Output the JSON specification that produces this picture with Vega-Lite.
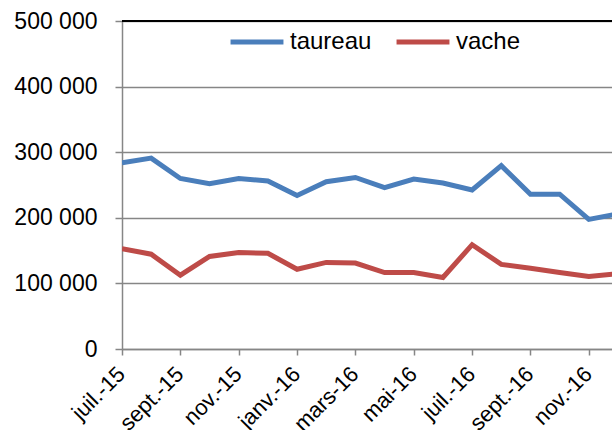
{
  "$schema": "https://vega.github.io/schema/vega-lite/v6.json",
  "autosize": "none",
  "width": 490,
  "height": 328,
  "padding": {"left": 122, "top": 21, "right": 0, "bottom": 81},
  "background": "white",
  "config": {"view": {"stroke": null}, "font": "Liberation Sans"},
  "data": {"values": [
    {"mois": "juil.-15", "type": "taureau", "valeur": 284000},
    {"mois": "août-15", "type": "taureau", "valeur": 291000},
    {"mois": "sept.-15", "type": "taureau", "valeur": 260000},
    {"mois": "oct.-15", "type": "taureau", "valeur": 252000},
    {"mois": "nov.-15", "type": "taureau", "valeur": 260000},
    {"mois": "déc.-15", "type": "taureau", "valeur": 256000},
    {"mois": "janv.-16", "type": "taureau", "valeur": 234000},
    {"mois": "févr.-16", "type": "taureau", "valeur": 255000},
    {"mois": "mars-16", "type": "taureau", "valeur": 261500},
    {"mois": "avr.-16", "type": "taureau", "valeur": 246000},
    {"mois": "mai-16", "type": "taureau", "valeur": 259000},
    {"mois": "juin-16", "type": "taureau", "valeur": 253000},
    {"mois": "juil.-16", "type": "taureau", "valeur": 242500},
    {"mois": "août-16", "type": "taureau", "valeur": 279500},
    {"mois": "sept.-16", "type": "taureau", "valeur": 236000},
    {"mois": "oct.-16", "type": "taureau", "valeur": 236000},
    {"mois": "nov.-16", "type": "taureau", "valeur": 197500},
    {"mois": "déc.-16", "type": "taureau", "valeur": 206000},
    {"mois": "juil.-15", "type": "vache", "valeur": 153000},
    {"mois": "août-15", "type": "vache", "valeur": 144500},
    {"mois": "sept.-15", "type": "vache", "valeur": 112500},
    {"mois": "oct.-15", "type": "vache", "valeur": 141000},
    {"mois": "nov.-15", "type": "vache", "valeur": 147000},
    {"mois": "déc.-15", "type": "vache", "valeur": 146000},
    {"mois": "janv.-16", "type": "vache", "valeur": 121500},
    {"mois": "févr.-16", "type": "vache", "valeur": 132000},
    {"mois": "mars-16", "type": "vache", "valeur": 131000},
    {"mois": "avr.-16", "type": "vache", "valeur": 116500},
    {"mois": "mai-16", "type": "vache", "valeur": 116500},
    {"mois": "juin-16", "type": "vache", "valeur": 109000},
    {"mois": "juil.-16", "type": "vache", "valeur": 159000},
    {"mois": "août-16", "type": "vache", "valeur": 129000},
    {"mois": "sept.-16", "type": "vache", "valeur": 123000},
    {"mois": "oct.-16", "type": "vache", "valeur": 116500},
    {"mois": "nov.-16", "type": "vache", "valeur": 110500},
    {"mois": "déc.-16", "type": "vache", "valeur": 115000}
  ]},
  "layer": [
    {
      "mark": {"type": "line", "strokeWidth": 5, "clip": true, "strokeJoin": "miter"},
      "encoding": {
        "x": {
          "field": "mois", "type": "ordinal", "sort": null,
          "scale": {"type": "point", "padding": 0, "range": [0, 496]},
          "axis": {
            "title": null,
            "values": ["juil.-15", "sept.-15", "nov.-15", "janv.-16", "mars-16", "mai-16", "juil.-16", "sept.-16", "nov.-16"],
            "labelAngle": -45, "labelAlign": "right", "labelBaseline": "top",
            "labelFontSize": 22, "labelColor": "black", "labelPadding": 8, "labelOffset": -8,
            "domainColor": "#868686", "domainWidth": 1.5,
            "tickColor": "#868686", "tickSize": 6, "tickWidth": 1.5,
            "grid": false, "labelOverlap": false
          }
        },
        "y": {
          "field": "valeur", "type": "quantitative",
          "scale": {"domain": [0, 500000], "nice": false},
          "axis": {
            "title": null,
            "values": [0, 100000, 200000, 300000, 400000, 500000],
            "labelExpr": "datum.value == 0 ? '0' : format(datum.value / 1000, 'd') + ' 000'",
            "labelFontSize": 23, "labelColor": "black", "labelPadding": 18,
            "domainColor": "#868686", "domainWidth": 1.5,
            "tickColor": "#868686", "tickSize": 7, "tickWidth": 1.5,
            "grid": true, "gridColor": "#868686", "gridWidth": 1.5
          }
        },
        "color": {
          "field": "type", "type": "nominal",
          "scale": {"domain": ["taureau", "vache"], "range": ["#4A7EBB", "#BE4B48"]},
          "legend": {
            "title": null, "orient": "none", "direction": "horizontal",
            "legendX": 106, "legendY": -8,
            "symbolType": "stroke", "symbolStrokeWidth": 5, "symbolSize": 2800,
            "labelFontSize": 24, "labelColor": "black", "labelOffset": 4,
            "columnPadding": 14
          }
        }
      }
    },
    {
      "mark": {"type": "rule", "color": "black", "strokeWidth": 1.5},
      "encoding": {"y": {"datum": 500000}}
    }
  ]
}
